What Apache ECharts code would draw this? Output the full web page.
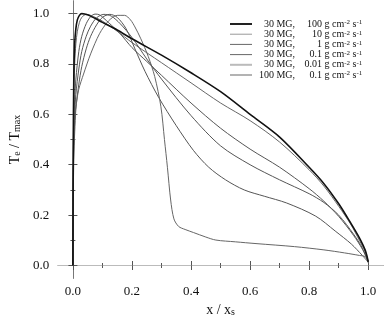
<!DOCTYPE html>
<html><head><meta charset="utf-8">
<script src="https://cdn.jsdelivr.net/npm/echarts@6/dist/echarts.min.js"></script>
<style>html,body{margin:0;padding:0;background:#fff}#c{width:384px;height:322px}</style>
</head><body><div id="c"></div>
<script>
// Series labels
const fieldLabels = ['30 MG,', '30 MG,', '30 MG,', '30 MG,', '30 MG,', '100 MG,'];
const rateLabels = ['100', '10', '1', '0.1', '0.01', '0.1'];
const seriesNames = ['30 MG, 100', '30 MG, 10', '30 MG, 1', '30 MG, 0.1', '30 MG, 0.01', '100 MG, 0.1'];
const majorTicks = [0.0, 0.2, 0.4, 0.6, 0.8, 1.0];
const minorTicks = [0.1, 0.3, 0.5, 0.7, 0.9];

// 30 MG, 100 g cm-2 s-1
const x100 = [0, 0.001, 0.003, 0.006, 0.01, 0.015, 0.022, 0.03, 0.04, 0.06, 0.1, 0.15, 0.2, 0.3, 0.4, 0.5, 0.6, 0.7, 0.8, 0.85, 0.9, 0.94, 0.97, 0.99, 1.0];
const y100 = [0, 0.45, 0.75, 0.88, 0.94, 0.975, 0.993, 1.0, 0.998, 0.99, 0.965, 0.935, 0.9, 0.835, 0.765, 0.69, 0.60, 0.51, 0.39, 0.325, 0.245, 0.17, 0.11, 0.06, 0.015];
// 30 MG, 10
const x10 = [0, 0.001, 0.003, 0.006, 0.01, 0.015, 0.022, 0.03, 0.045, 0.06, 0.1, 0.15, 0.2, 0.3, 0.4, 0.5, 0.6, 0.7, 0.8, 0.85, 0.9, 0.94, 0.97, 0.99, 1.0];
const y10 = [0, 0.4, 0.65, 0.8, 0.88, 0.93, 0.965, 0.985, 0.997, 0.993, 0.97, 0.93, 0.885, 0.805, 0.725, 0.645, 0.575, 0.49, 0.38, 0.315, 0.235, 0.165, 0.1, 0.055, 0.015];
// 30 MG, 1
const x1 = [0, 0.001, 0.003, 0.006, 0.01, 0.02, 0.03, 0.045, 0.06, 0.075, 0.09, 0.12, 0.16, 0.2, 0.25, 0.3, 0.4, 0.5, 0.6, 0.7, 0.8, 0.85, 0.9, 0.95, 0.98, 1.0];
const y1 = [0, 0.35, 0.55, 0.66, 0.74, 0.85, 0.91, 0.96, 0.988, 0.998, 0.995, 0.965, 0.92, 0.865, 0.81, 0.755, 0.645, 0.545, 0.462, 0.39, 0.305, 0.255, 0.195, 0.12, 0.065, 0.015];
// 30 MG, 0.1
const x01 = [0, 0.001, 0.003, 0.006, 0.01, 0.02, 0.03, 0.045, 0.06, 0.08, 0.105, 0.13, 0.16, 0.2, 0.25, 0.3, 0.4, 0.5, 0.6, 0.7, 0.8, 0.85, 0.9, 0.95, 0.98, 1.0];
const y01 = [0, 0.3, 0.5, 0.6, 0.68, 0.78, 0.85, 0.91, 0.95, 0.983, 0.997, 0.99, 0.96, 0.905, 0.82, 0.74, 0.595, 0.475, 0.4, 0.34, 0.285, 0.25, 0.2, 0.125, 0.07, 0.015];
// 30 MG, 0.01
const x001 = [0, 0.001, 0.003, 0.006, 0.01, 0.02, 0.036, 0.06, 0.09, 0.12, 0.15, 0.175, 0.195, 0.21, 0.23, 0.255, 0.277, 0.298, 0.31, 0.32, 0.331, 0.342, 0.358, 0.38, 0.408, 0.45, 0.484, 0.55, 0.62, 0.75, 0.85, 0.92, 0.97, 0.99, 1.0];
const y001 = [0, 0.3, 0.48, 0.57, 0.63, 0.7, 0.76, 0.84, 0.92, 0.97, 0.993, 0.993, 0.975, 0.947, 0.9, 0.83, 0.75, 0.63, 0.5, 0.39, 0.26, 0.185, 0.155, 0.143, 0.131, 0.113, 0.101, 0.094, 0.087, 0.075, 0.062, 0.05, 0.04, 0.035, 0.01];
// 100 MG, 0.1
const xB01 = [0, 0.001, 0.003, 0.006, 0.01, 0.02, 0.03, 0.045, 0.06, 0.08, 0.1, 0.125, 0.15, 0.18, 0.21, 0.244, 0.29, 0.35, 0.408, 0.46, 0.517, 0.58, 0.648, 0.724, 0.822, 0.888, 0.943, 0.98, 1.0];
const yB01 = [0, 0.25, 0.42, 0.53, 0.62, 0.72, 0.79, 0.86, 0.91, 0.955, 0.985, 0.997, 0.985, 0.94, 0.86, 0.771, 0.668, 0.555, 0.457, 0.39, 0.34, 0.3, 0.275, 0.248, 0.196, 0.137, 0.085, 0.04, 0.013];

const xs = [x100, x10, x1, x01, x001, xB01];
const ys = [y100, y10, y1, y01, y001, yB01];
const lineColors = ['#111', '#555', '#555', '#555', '#666', '#555'];
const lineWidths = [1.6, 0.9, 1, 1, 1, 1];
const legendColors = ['#222', '#999', '#666', '#666', '#bbb', '#666'];
const legendThick = [true, false, false, false, true, false];

const FONT = 'Liberation Serif';
const LFS = 10;
const mctx = document.createElement('canvas').getContext('2d');
mctx.font = LFS + 'px "' + FONT + '"';
const tw = s => mctx.measureText(s).width;

const chart = echarts.init(document.getElementById('c'), null, {renderer: 'canvas'});

const nameRich = {
  n: {fontFamily: FONT, fontSize: 14, color: '#111'},
  sub: {fontFamily: FONT, fontSize: 10, color: '#111', verticalAlign: 'bottom', lineHeight: 12}
};
function axisX(pos, vals, len, showLine, lineColor, labels, name) {
  return {
    type: 'value', position: pos, min: -0.05, max: 1.05,
    axisLine: {show: showLine, lineStyle: {color: lineColor, width: 1}},
    axisTick: {show: true, inside: true, length: len, customValues: vals, lineStyle: {color: '#555'}},
    axisLabel: labels ? {show: true, customValues: vals, margin: 7, color: '#111', fontFamily: FONT, fontSize: 13,
      formatter: v => v.toFixed(1)} : {show: false},
    splitLine: {show: false},
    name: name || '', nameLocation: 'middle', nameGap: 22,
    nameTextStyle: {fontFamily: FONT, fontSize: 14, color: '#111', rich: nameRich}
  };
}
function axisY(pos, vals, len, showLine, lineColor, labels, name) {
  return {
    type: 'value', position: pos, min: -0.05, max: 1.05,
    axisLine: {show: showLine, lineStyle: {color: lineColor, width: 1}},
    axisTick: {show: true, inside: true, length: len, customValues: vals, lineStyle: {color: '#555'}},
    axisLabel: labels ? {show: true, customValues: vals, margin: 9, color: '#111', fontFamily: FONT, fontSize: 13,
      formatter: v => v.toFixed(1)} : {show: false},
    splitLine: {show: false},
    name: name || '', nameLocation: 'middle', nameGap: 30, nameRotate: 90,
    nameTextStyle: {fontFamily: FONT, fontSize: 14, color: '#111', rich: nameRich}
  };
}

// right-aligned legend text pieces via measured padding
const richLegend = {
  c: {fontFamily: FONT, fontSize: LFS, color: '#111'},
  s: {fontFamily: FONT, fontSize: 7, color: '#111', verticalAlign: 'top'}
};
seriesNames.forEach((n, i) => {
  richLegend['a' + i] = {fontFamily: FONT, fontSize: LFS, color: '#111',
    padding: [0, 0, 0, Math.max(0, 38 - tw(fieldLabels[i]))]};
  richLegend['b' + i] = {fontFamily: FONT, fontSize: LFS, color: '#111',
    padding: [0, 0, 0, Math.max(0, 27 - tw(rateLabels[i]))]};
});

const option = {
  animation: false,
  backgroundColor: '#fff',
  grid: {left: 47, right: 1, top: 1, bottom: 41, containLabel: false},
  xAxis: [
    axisX('bottom', majorTicks, 4.5, true, '#444', true, '{n|x / x}{sub|s}'),
    axisX('bottom', minorTicks, 2.5, false, '#444', false),
    axisX('top', majorTicks, 4.5, true, '#bbb', false),
    axisX('top', minorTicks, 2.5, false, '#bbb', false)
  ],
  yAxis: [
    axisY('left', majorTicks, 4.5, true, '#444', true, '{n|T}{sub|e}{n| / T}{sub|max}'),
    axisY('left', minorTicks, 2.5, false, '#444', false),
    axisY('right', majorTicks, 4.5, true, '#777', false),
    axisY('right', minorTicks, 2.5, false, '#777', false)
  ],
  legend: {
    show: true,
    orient: 'vertical', left: 225, top: 14,
    itemWidth: 22, itemHeight: 2, itemGap: 0.2,
    icon: 'rect',
    data: seriesNames.map((n, i) => ({name: n, itemStyle: {color: legendColors[i]},
      icon: legendThick[i] ? 'rect' : 'path://M0,0H22V1H0Z'})),
    formatter: function (name) {
      const i = seriesNames.indexOf(name);
      return '{a' + i + '|' + fieldLabels[i] + '}{b' + i + '|' + rateLabels[i] + '}{c| g cm}{s|-2}{c| s}{s|-1}';
    },
    textStyle: {fontFamily: FONT, fontSize: LFS, color: '#111', rich: richLegend}
  },
  series: seriesNames.map((n, i) => ({
    name: n, type: 'line', xAxisIndex: 0, yAxisIndex: 0,
    symbol: 'none', smooth: 0.3,
    lineStyle: {color: lineColors[i], width: lineWidths[i]},
    itemStyle: {color: legendColors[i]},
    data: xs[i].map((x, j) => [x, ys[i][j]]),
    z: 10 - i
  }))
};
chart.setOption(option);
</script></body></html>
